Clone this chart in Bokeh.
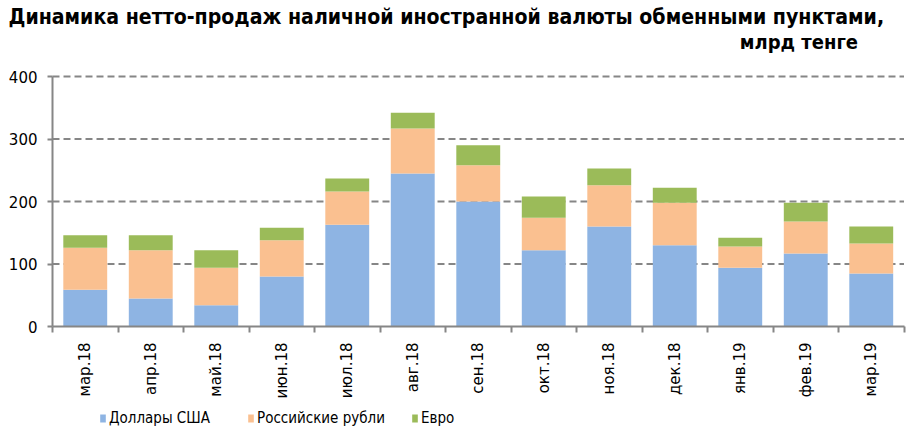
import math
from bokeh.plotting import figure
from bokeh.models import ColumnDataSource, FixedTicker, Legend, LegendItem, Label, Range1d
from bokeh.embed import file_html
from bokeh.resources import INLINE

months = ["мар.18", "апр.18", "май.18", "июн.18", "июл.18", "авг.18", "сен.18",
          "окт.18", "ноя.18", "дек.18", "янв.19", "фев.19", "мар.19"]
usd = [59, 45, 34, 80, 163, 245, 200, 122, 160, 130, 94, 117, 85]
rub = [67, 77, 60, 58, 53, 72, 58, 52, 66, 68, 34, 51, 48]
eur = [20, 24, 28, 20, 21, 25, 32, 34, 27, 24, 14, 30, 27]
series_names = ["Доллары США", "Российские рубли", "Евро"]
colors = ["#8EB4E3", "#FAC090", "#9BBB59"]
y_ticks = [0, 100, 200, 300, 400]
title1 = "Динамика  нетто-продаж  наличной  иностранной  валюты  обменными пунктами,"
title2 = "млрд тенге"

n = len(months)
xs = [i + 0.5 for i in range(n)]
src = ColumnDataSource(dict(x=xs, usd=usd, rub=rub, eur=eur))

# The frame fills the whole canvas; the axes are drawn at fixed locations inside it.
W, H = 913, 438
px_x = 65.5            # pixels per category
px_y = 250 / 400       # pixels per unit
left_pad, right_pad, top_pad, bottom_pad = 52, 9, 76, 112
x_lo = -left_pad / px_x
x_hi = x_lo + W / px_x
y_hi = y_ticks[-1] + top_pad / px_y
y_lo = y_hi - H / px_y

p = figure(width=W, height=H, x_range=Range1d(x_lo, x_hi), y_range=Range1d(y_lo, y_hi),
           output_backend="svg", toolbar_location=None,
           min_border_left=0, min_border_right=0, min_border_top=0, min_border_bottom=0)
p.outline_line_color = None
p.background_fill_color = "white"
p.xgrid.visible = False
p.ygrid.visible = False

grey = "#868686"
narrow = "DejaVu Sans Condensed, Roboto, sans-serif"

# dashed horizontal gridlines
gy = y_ticks[1:]
p.segment(x0=[0] * len(gy), x1=[n] * len(gy), y0=gy, y1=gy,
          line_color=grey, line_width=2, line_dash="7 4")

rs = p.vbar_stack(["usd", "rub", "eur"], x="x", width=0.67, color=colors, line_color=None, source=src)

# y axis
p.yaxis.fixed_location = 0
p.yaxis.ticker = FixedTicker(ticks=y_ticks)
p.yaxis.bounds = (y_ticks[0], y_ticks[-1])
p.yaxis.axis_line_color = grey
p.yaxis.axis_line_width = 2
p.yaxis.major_tick_line_color = grey
p.yaxis.major_tick_line_width = 2
p.yaxis.major_tick_out = 5
p.yaxis.major_tick_in = 0
p.yaxis.minor_tick_line_color = None
p.yaxis.major_label_text_font = "DejaVu Sans"
p.yaxis.major_label_text_font_size = "15px"
p.yaxis.major_label_text_color = "black"
p.yaxis.major_label_standoff = 10

# x axis
overrides = {}
for xv, m in zip(xs, months):
    overrides[xv] = m
    overrides[str(xv)] = m
p.xaxis.fixed_location = 0
p.xaxis.bounds = (0, n)
p.xaxis.ticker = FixedTicker(ticks=xs, minor_ticks=list(range(n + 1)))
p.xaxis.major_label_overrides = overrides
p.xaxis.axis_line_color = grey
p.xaxis.axis_line_width = 2
p.xaxis.major_tick_line_color = None
p.xaxis.major_tick_out = 0
p.xaxis.major_tick_in = 0
p.xaxis.minor_tick_line_color = grey
p.xaxis.minor_tick_line_width = 2
p.xaxis.minor_tick_out = 6
p.xaxis.minor_tick_in = 0
p.xaxis.major_label_orientation = math.pi / 2
p.xaxis.major_label_text_font = "DejaVu Sans"
p.xaxis.major_label_text_font_size = "15px"
p.xaxis.major_label_text_color = "black"
p.xaxis.major_label_standoff = 10

# title (two lines)
p.add_layout(Label(x=0, y=y_ticks[-1], x_offset=-44, y_offset=60, text=title1,
                   text_align="left", text_baseline="middle", text_font=narrow,
                   text_font_size="21.1px", text_font_style="bold", text_color="black"))
p.add_layout(Label(x=n, y=y_ticks[-1], x_offset=-46, y_offset=35, text=title2,
                   text_align="right", text_baseline="middle", text_font=narrow,
                   text_font_size="20px", text_font_style="bold", text_color="black"))

legend_x = [99, 247, 411]
for nm, r, lx in zip(series_names, rs, legend_x):
    lg = Legend(items=[LegendItem(label=nm, renderers=[r])],
                orientation="horizontal", location=(lx, 11),
                border_line_color=None, background_fill_alpha=0,
                glyph_width=7, glyph_height=10, label_standoff=3,
                padding=2, margin=0,
                label_text_font=narrow, label_text_font_size="15px", label_text_color="black")
    p.add_layout(lg)

open("out.html", "w").write(file_html(p, INLINE))
